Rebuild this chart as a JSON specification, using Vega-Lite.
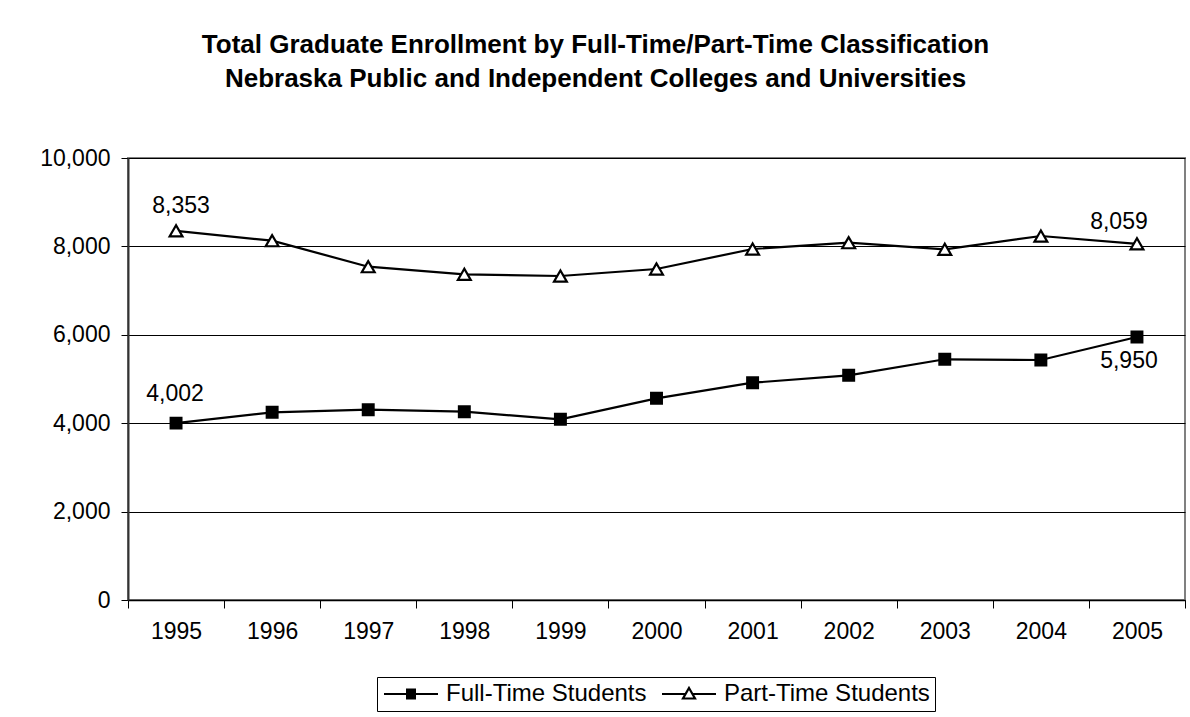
{
  "$schema": "https://vega.github.io/schema/vega-lite/v6.json",
  "width": 1057,
  "height": 442,
  "autosize": "none",
  "padding": {"left": 128, "top": 158, "right": 5, "bottom": 117},
  "background": "white",
  "title": {
    "text": ["Total Graduate Enrollment by Full-Time/Part-Time Classification", "Nebraska Public and Independent Colleges and Universities"],
    "font": "Liberation Sans",
    "fontSize": 26,
    "fontWeight": "bold",
    "color": "black",
    "lineHeight": 34,
    "anchor": "middle",
    "dx": -61,
    "offset": 55
  },
  "data": {
    "values": [
      {"year": "1995", "series": "Full-Time Students", "value": 4002},
      {"year": "1996", "series": "Full-Time Students", "value": 4247},
      {"year": "1997", "series": "Full-Time Students", "value": 4305},
      {"year": "1998", "series": "Full-Time Students", "value": 4260},
      {"year": "1999", "series": "Full-Time Students", "value": 4088},
      {"year": "2000", "series": "Full-Time Students", "value": 4563},
      {"year": "2001", "series": "Full-Time Students", "value": 4916},
      {"year": "2002", "series": "Full-Time Students", "value": 5084},
      {"year": "2003", "series": "Full-Time Students", "value": 5446},
      {"year": "2004", "series": "Full-Time Students", "value": 5430},
      {"year": "2005", "series": "Full-Time Students", "value": 5950},
      {"year": "1995", "series": "Part-Time Students", "value": 8353},
      {"year": "1996", "series": "Part-Time Students", "value": 8129},
      {"year": "1997", "series": "Part-Time Students", "value": 7541},
      {"year": "1998", "series": "Part-Time Students", "value": 7369},
      {"year": "1999", "series": "Part-Time Students", "value": 7330},
      {"year": "2000", "series": "Part-Time Students", "value": 7489},
      {"year": "2001", "series": "Part-Time Students", "value": 7941},
      {"year": "2002", "series": "Part-Time Students", "value": 8084},
      {"year": "2003", "series": "Part-Time Students", "value": 7934},
      {"year": "2004", "series": "Part-Time Students", "value": 8235},
      {"year": "2005", "series": "Part-Time Students", "value": 8059}
    ]
  },
  "encoding": {
    "x": {
      "field": "year",
      "type": "ordinal",
      "scale": {"type": "band", "paddingInner": 0, "paddingOuter": 0},
      "axis": {
        "title": null,
        "labelAngle": 0,
        "tickBand": "extent",
        "grid": false,
        "domainColor": "black",
        "domainWidth": 1.5,
        "tickColor": "black",
        "tickSize": 8,
        "labelPadding": 12,
        "labelFontSize": 23
      }
    },
    "y": {
      "field": "value",
      "type": "quantitative",
      "scale": {"domain": [0, 10000], "nice": false},
      "axis": {
        "title": null,
        "values": [0, 2000, 4000, 6000, 8000, 10000],
        "format": ",.0f",
        "grid": true,
        "gridColor": "black",
        "gridWidth": 1,
        "gridOpacity": 1,
        "domainColor": "#333333",
        "domainWidth": 2,
        "tickColor": "black",
        "tickSize": 7,
        "labelPadding": 11,
        "labelFontSize": 23
      }
    }
  },
  "layer": [
    {
      "mark": {"type": "line", "color": "black", "strokeWidth": 2.2},
      "encoding": {"detail": {"field": "series"}}
    },
    {
      "transform": [{"filter": "datum.series === 'Full-Time Students'"}],
      "mark": {"type": "point", "shape": "square", "filled": true, "size": 120, "fill": "black", "stroke": "black", "strokeWidth": 2, "opacity": 1}
    },
    {
      "transform": [{"filter": "datum.series === 'Part-Time Students'"}],
      "mark": {"type": "point", "shape": "triangle-up", "filled": true, "size": 165, "fill": "white", "stroke": "black", "strokeWidth": 2.2, "opacity": 1}
    },
    {
      "mark": {"type": "point", "filled": false, "opacity": 0, "stroke": "black", "size": 400},
      "encoding": {
        "shape": {
          "field": "series",
          "type": "nominal",
          "scale": {
            "domain": ["Full-Time Students", "Part-Time Students"],
            "range": [
              "M-1,0H4.4M1.2,-0.45H2.2M1.2,-0.3H2.2M1.2,-0.15H2.2M1.2,0.15H2.2M1.2,0.3H2.2M1.2,0.45H2.2",
              "M-1,0H1.4M2,0H4.4M1.7,-0.6L2.3,0.45H1.1Z"
            ]
          },
          "legend": {
            "orient": "none",
            "legendX": 249,
            "legendY": 519,
            "direction": "horizontal",
            "title": null,
            "strokeColor": "black",
            "padding": 5,
            "fillColor": "white",
            "labelFontSize": 24,
            "labelColor": "black",
            "labelOffset": 40,
            "labelLimit": 500,
            "columnPadding": 10,
            "symbolSize": 400,
            "symbolStrokeWidth": 2.2,
            "symbolStrokeColor": "black",
            "symbolFillColor": "transparent",
            "symbolOpacity": 1
          }
        }
      }
    },
    {
      "transform": [{"filter": "datum.year === '1995' && datum.series === 'Part-Time Students'"}],
      "mark": {"type": "text", "fontSize": 23, "color": "black", "dx": 5, "dy": -25, "baseline": "middle"},
      "encoding": {"text": {"field": "value", "type": "quantitative", "format": ","}}
    },
    {
      "transform": [{"filter": "datum.year === '1995' && datum.series === 'Full-Time Students'"}],
      "mark": {"type": "text", "fontSize": 23, "color": "black", "dx": -1, "dy": -29, "baseline": "middle"},
      "encoding": {"text": {"field": "value", "type": "quantitative", "format": ","}}
    },
    {
      "transform": [{"filter": "datum.year === '2005' && datum.series === 'Part-Time Students'"}],
      "mark": {"type": "text", "fontSize": 23, "color": "black", "dx": -18, "dy": -22, "baseline": "middle"},
      "encoding": {"text": {"field": "value", "type": "quantitative", "format": ","}}
    },
    {
      "transform": [{"filter": "datum.year === '2005' && datum.series === 'Full-Time Students'"}],
      "mark": {"type": "text", "fontSize": 23, "color": "black", "dx": -8, "dy": 24, "baseline": "middle"},
      "encoding": {"text": {"field": "value", "type": "quantitative", "format": ","}}
    }
  ],
  "config": {
    "font": "Liberation Sans",
    "view": {"stroke": "#808080", "strokeWidth": 2},
    "axis": {"labelColor": "black", "labelFont": "Liberation Sans"},
    "legend": {"labelFont": "Liberation Sans"},
    "text": {"font": "Liberation Sans"}
  }
}
